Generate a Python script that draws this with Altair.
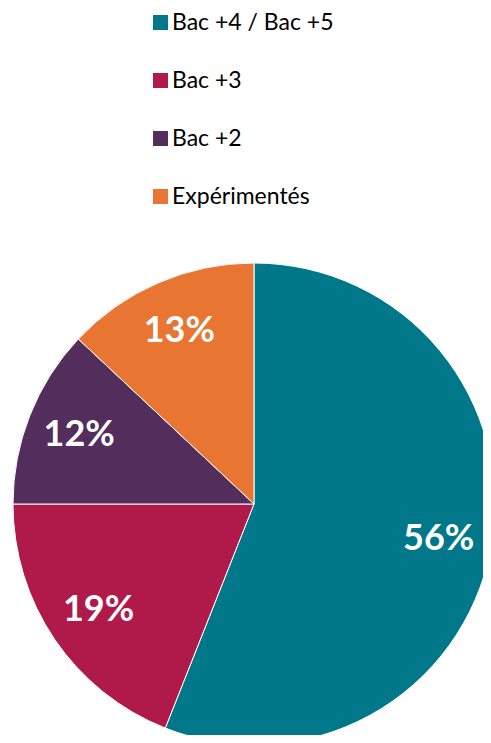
import altair as alt
import pandas as pd

categories = ["Bac +4 / Bac +5", "Bac +3", "Bac +2", "Expérimentés"]
values = [56, 19, 12, 13]
labels = ["56%", "19%", "12%", "13%"]
colors = ["#00788A", "#B01A4B", "#532D5B", "#E87532"]

df = pd.DataFrame({"cat": categories, "val": values, "label": labels, "order": list(range(len(values)))})

W, H = 475, 727
cx, cy = 246, 496
R = 241

base = alt.Chart(df).encode(
    theta=alt.Theta("val:Q", stack=True),
    order=alt.Order("order:Q"),
)

pie = base.mark_arc(radius=R, stroke="white", strokeWidth=1).encode(
    x=alt.value(cx), y=alt.value(cy),
    color=alt.Color(
        "cat:N",
        scale=alt.Scale(domain=categories, range=colors),
        sort=categories,
        legend=alt.Legend(
            title=None, orient="none", legendX=141, legendY=3,
            symbolType="square", symbolSize=225, symbolStrokeWidth=0,
            labelFontSize=23, labelFont="Lato", labelColor="#000000",
            labelLimit=400,
            rowPadding=34, padding=0, labelOffset=0,
        ),
    ),
)

text = base.mark_text(radius=188, font="Lato", fontSize=36, fontWeight="bold",
                      color="white", align="center", baseline="middle").encode(
    x=alt.value(cx), y=alt.value(cy),
    text="label:N",
)

chart = alt.layer(pie, text).properties(
    width=W, height=H, padding=0, autosize=alt.AutoSizeParams(type="none")
).configure_view(stroke=None)

chart.save("out.html", embed_options={"renderer": "svg", "actions": False})
